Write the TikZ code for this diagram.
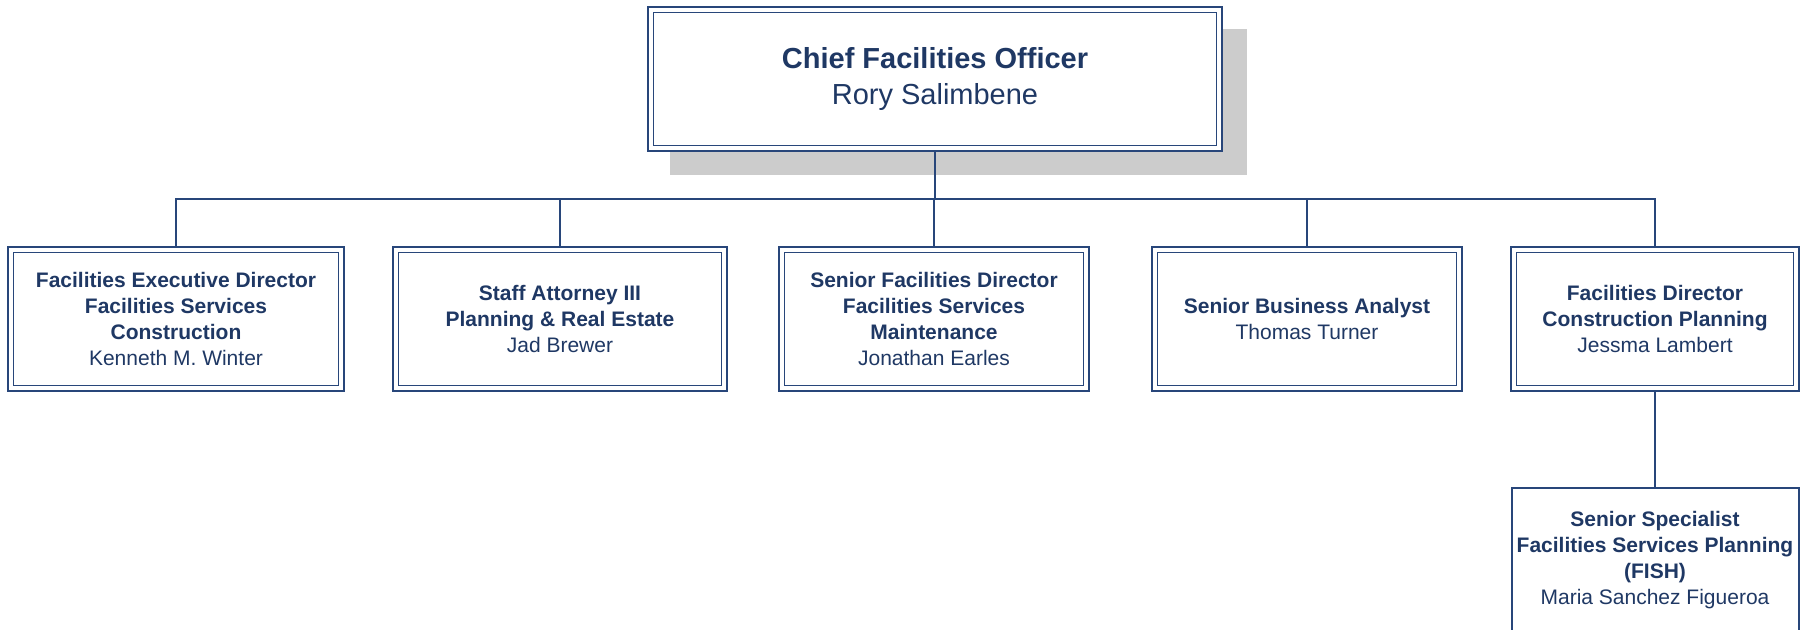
\documentclass[tikz,border=0pt]{standalone}
\usepackage{fontspec}
\setmainfont{Liberation Sans}
\definecolor{navy}{RGB}{31,56,100}
\definecolor{linec}{RGB}{40,70,122}
\definecolor{shadowc}{RGB}{204,204,204}
\begin{document}
\begin{tikzpicture}[x=1pt,y=-1pt,
  orgbox/.style={draw=linec, line width=2pt, fill=white, text=navy, align=center,
    inner xsep=2pt, outer sep=0pt, minimum height=144pt, font=\fontsize{21}{26}\selectfont},
  innerframe/.style={draw=linec, line width=1.2pt},
  conn/.style={draw=linec, line width=1.8pt, line join=miter}]
\clip (0,0) rectangle (1803,629);
\fill[shadowc] (670,29) rectangle (1247,175);
\node[orgbox, minimum width=574pt, font=\fontsize{29}{36}\selectfont] (cfo) at (935,79)
  {\textbf{Chief Facilities Officer}\\Rory Salimbene};
\node[orgbox, minimum width=336pt] (b1) at (176,319)
  {\textbf{Facilities Executive Director}\\\textbf{Facilities Services}\\\textbf{Construction}\\Kenneth M. Winter};
\node[orgbox, minimum width=334pt] (b2) at (560,319)
  {\textbf{Staff Attorney III}\\\textbf{Planning \& Real Estate}\\Jad Brewer};
\node[orgbox, minimum width=310pt] (b3) at (934,319)
  {\textbf{Senior Facilities Director}\\\textbf{Facilities Services}\\\textbf{Maintenance}\\Jonathan Earles};
\node[orgbox, minimum width=310pt] (b4) at (1307,319)
  {\textbf{Senior Business Analyst}\\Thomas Turner};
\node[orgbox, minimum width=288pt] (b5) at (1655,319)
  {\textbf{Facilities Director}\\\textbf{Construction Planning}\\Jessma Lambert};
\node[orgbox, minimum width=287pt] (sub) at (1655,560)
  {\textbf{Senior Specialist}\\\textbf{Facilities Services Planning}\\\textbf{(FISH)}\\Maria Sanchez Figueroa};
\foreach \n in {cfo,b1,b2,b3,b4,b5}
  \draw[innerframe] ([xshift=5.5pt,yshift=-5.5pt]\n.north west) rectangle ([xshift=-5.5pt,yshift=5.5pt]\n.south east);
\coordinate (bus) at (0,199);
\draw[conn] (cfo.south) -- (cfo.south |- bus);
\draw[conn] (b1.north) -- (b1.north |- bus) -- (b5.north |- bus) -- (b5.north);
\foreach \n in {b2,b3,b4}
  \draw[conn] (\n.north) -- (\n.north |- bus);
\draw[conn] (b5.south) -- (sub.north);
\end{tikzpicture}
\end{document}
